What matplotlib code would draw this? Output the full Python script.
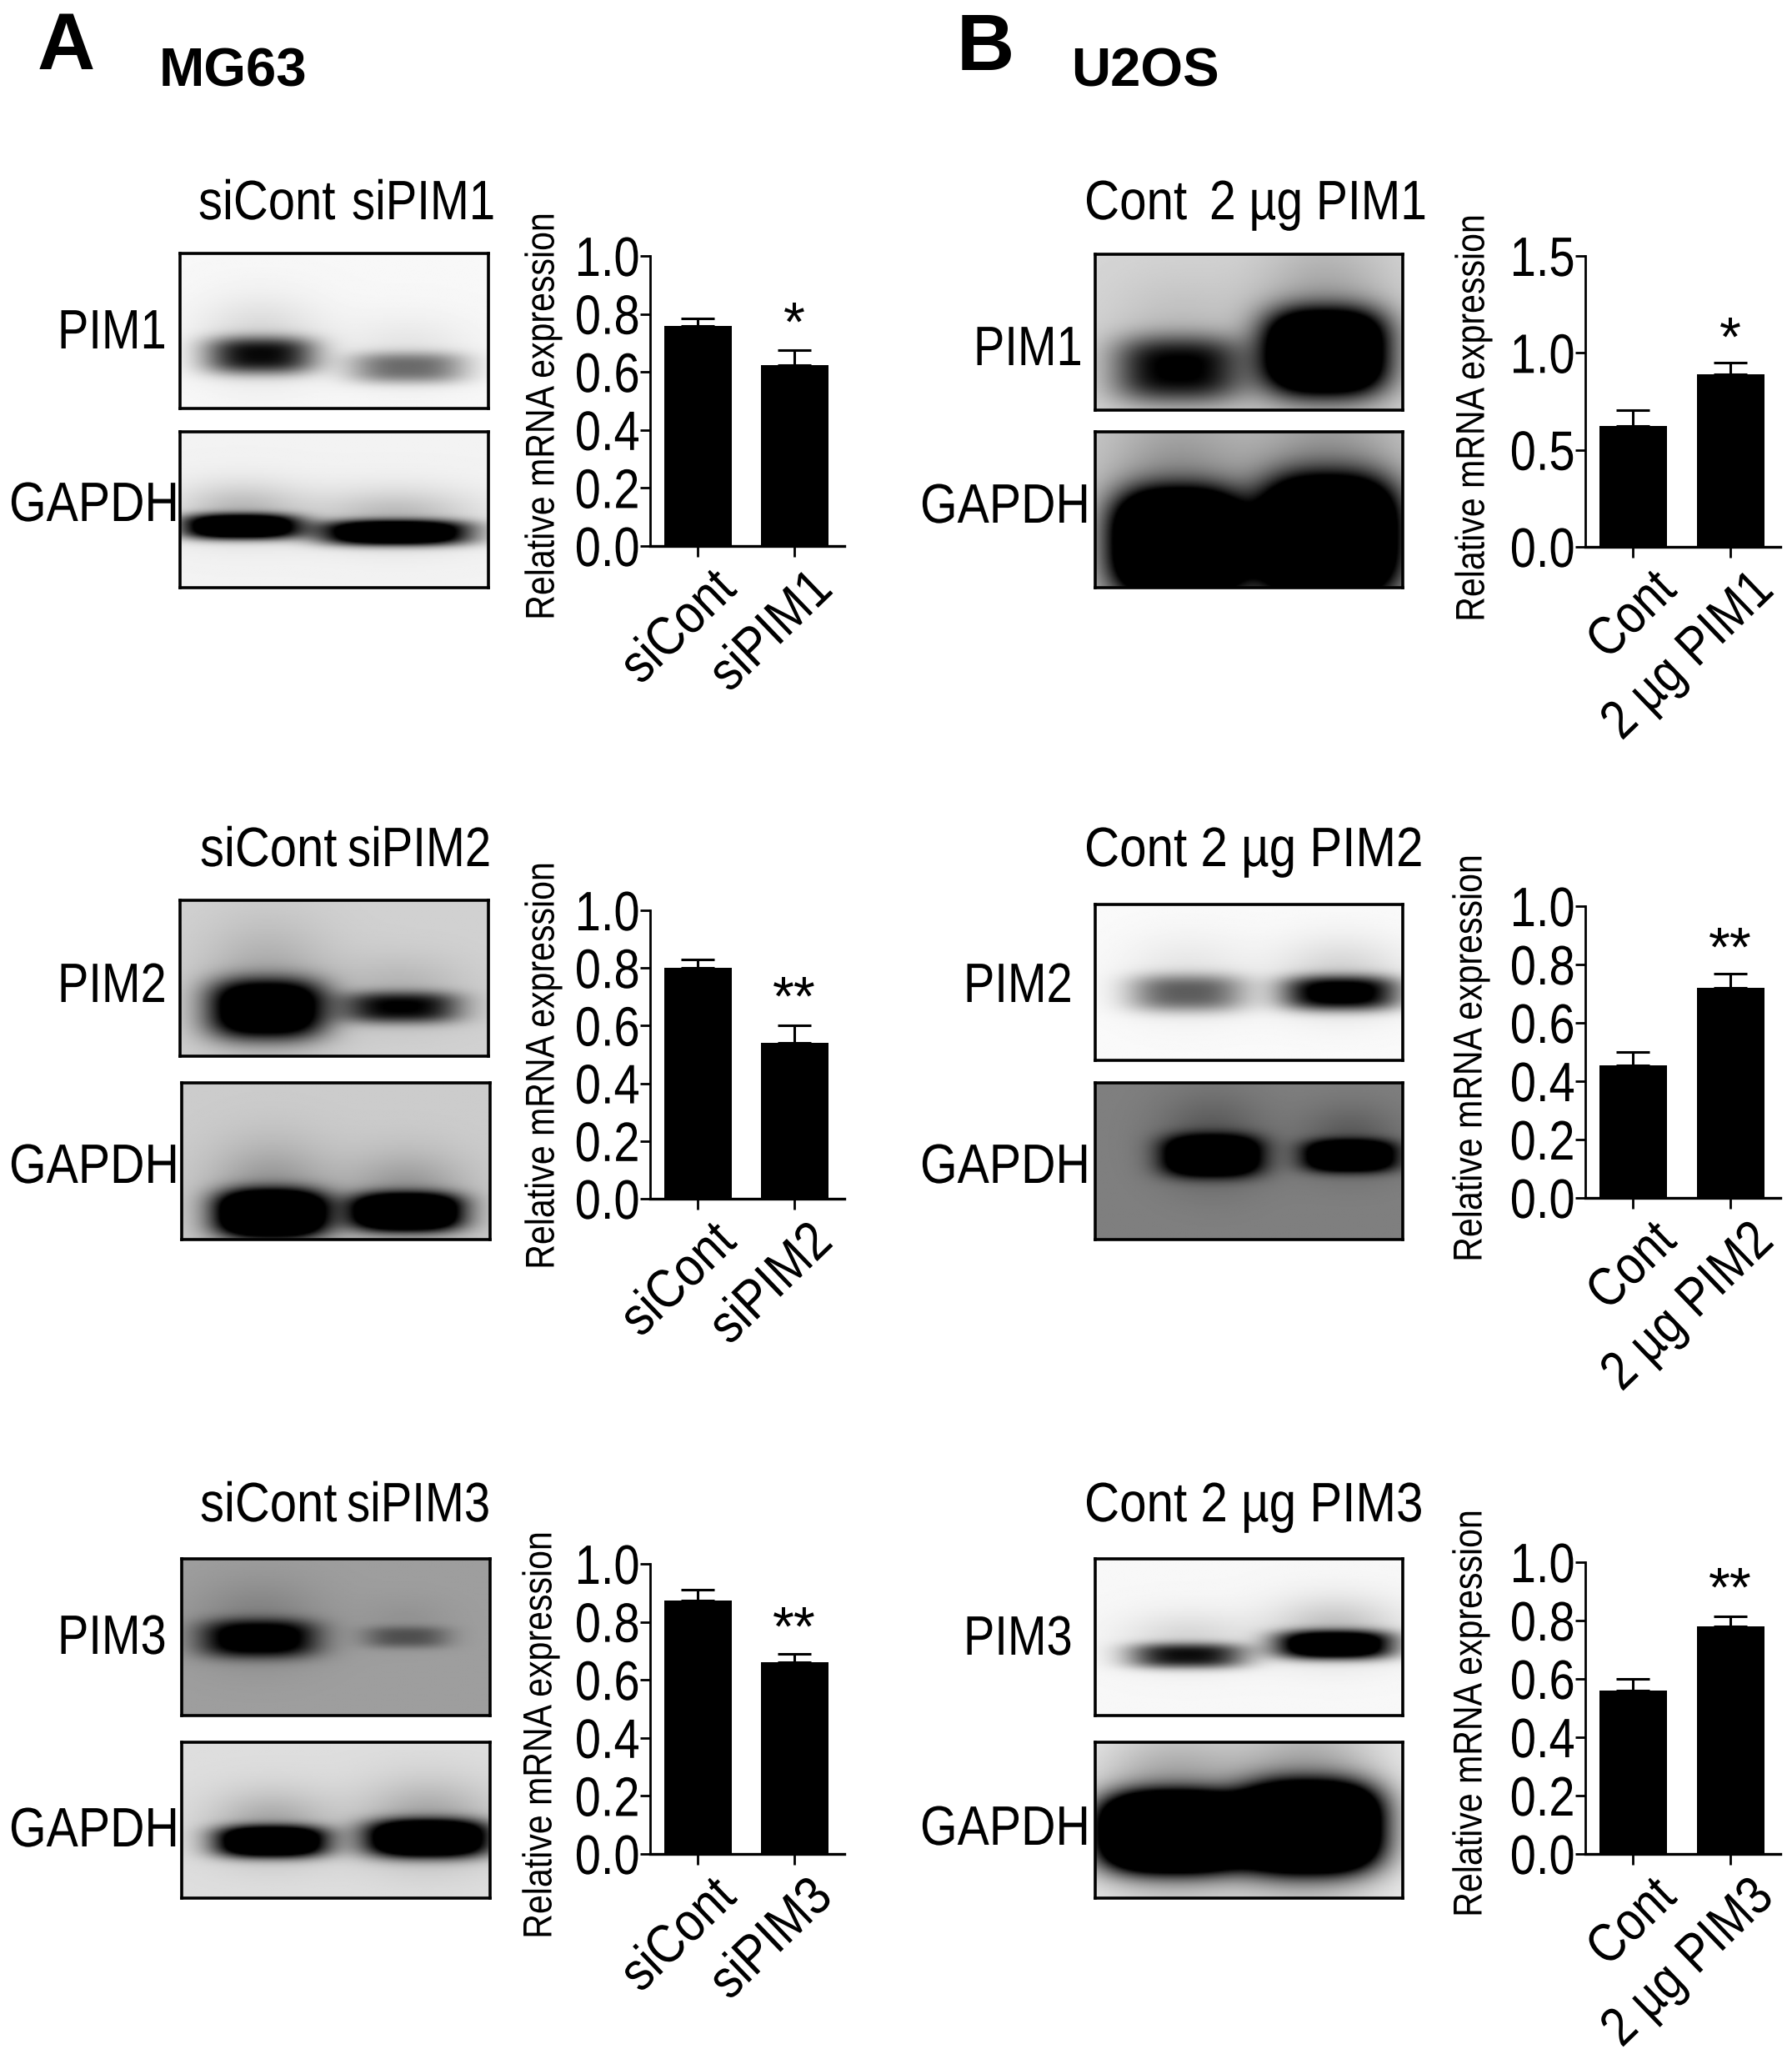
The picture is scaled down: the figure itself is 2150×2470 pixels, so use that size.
import numpy as np
import matplotlib
matplotlib.use("Agg")
import matplotlib.pyplot as plt
from matplotlib.patheffects import AbstractPathEffect
from matplotlib.transforms import Affine2D, ScaledTranslation

W, H = 2150, 2470
FONT = "Liberation Sans"

# Chart values (top row to bottom row, control then treated)
MG63_LABELS = [["siCont", "siPIM1"], ["siCont", "siPIM2"], ["siCont", "siPIM3"]]
MG63_MEANS = [[0.76, 0.625], [0.80, 0.54], [0.875, 0.66]]
MG63_UPPER = [[0.785, 0.675], [0.83, 0.60], [0.91, 0.69]]
MG63_STARS = ["*", "**", "**"]
MG63_STAR_Y = [0.797, 0.726, 0.808]

U2OS_LABELS = [["Cont", "2 µg PIM1"], ["Cont", "2 µg PIM2"], ["Cont", "2 µg PIM3"]]
U2OS_MEANS = [[0.625, 0.89], [0.455, 0.72], [0.56, 0.78]]
U2OS_UPPER = [[0.705, 0.95], [0.50, 0.77], [0.60, 0.815]]
U2OS_STARS = ["*", "**", "**"]
U2OS_STAR_Y = [1.118, 0.885, 0.937]

Y_TICKS_PIM = [0.0, 0.2, 0.4, 0.6, 0.8, 1.0]
Y_TICKS_U2OS_1 = [0.0, 0.5, 1.0, 1.5]

# Blot bands: (centre x, centre y, half width, half height, darkness) as box fractions
BLOT_BG = {
    "a1p": 0.97, "a1g": 0.95, "a2p": 0.82, "a2g": 0.80, "a3p": 0.62, "a3g": 0.87,
    "b1p": 0.84, "b1g": 0.80, "b2p": 0.98, "b2g": 0.50, "b3p": 0.97, "b3g": 0.94,
}
BLOT_BANDS = {
    "a1p": [(0.26, 0.66, 0.18, 0.12, 0.85), (0.74, 0.74, 0.19, 0.10, 0.50)],
    "a1g": [(0.195, 0.61, 0.19, 0.08, 1.5), (0.70, 0.65, 0.24, 0.08, 1.5)],
    "a2p": [(0.28, 0.70, 0.19, 0.19, 1.4), (0.72, 0.69, 0.19, 0.10, 0.9)],
    "a2g": [(0.29, 0.84, 0.18, 0.15, 1.9), (0.73, 0.83, 0.18, 0.12, 1.8)],
    "a3p": [(0.25, 0.51, 0.19, 0.12, 1.2), (0.73, 0.50, 0.14, 0.07, 0.45)],
    "a3g": [(0.29, 0.64, 0.18, 0.10, 1.6), (0.80, 0.62, 0.20, 0.12, 1.7)],
    "b1p": [(0.27, 0.74, 0.21, 0.21, 0.9), (0.75, 0.63, 0.20, 0.27, 1.9)],
    "b1g": [(0.27, 0.72, 0.21, 0.33, 2.4), (0.76, 0.68, 0.22, 0.37, 2.4)],
    "b2p": [(0.30, 0.57, 0.19, 0.12, 0.55), (0.80, 0.57, 0.19, 0.11, 1.05)],
    "b2g": [(0.38, 0.47, 0.16, 0.13, 2.0), (0.83, 0.47, 0.15, 0.10, 1.9)],
    "b3p": [(0.30, 0.62, 0.19, 0.08, 0.85), (0.78, 0.55, 0.19, 0.09, 1.4)],
    "b3g": [(0.25, 0.58, 0.23, 0.24, 2.6), (0.70, 0.55, 0.22, 0.27, 2.6)],
}


class Squeeze(AbstractPathEffect):
    """Narrow a text along its baseline, keeping the given anchor fixed."""

    def __init__(self, sx, anchor=0.0):
        super().__init__()
        self.sx = sx
        self.anchor = anchor

    def draw_path(self, renderer, gc, tpath, affine, rgbFace=None):
        width = tpath.vertices[:, 0].max()
        shift = (1 - self.sx) * width * self.anchor
        local = Affine2D().scale(self.sx, 1).translate(shift, 0)
        renderer.draw_path(gc, tpath, (local + affine).frozen(), rgbFace)


fig = plt.figure(figsize=(W / 100, H / 100), dpi=100, facecolor="white")


def axes_px(x0, y0, x1, y1):
    return fig.add_axes([x0 / W, 1 - y1 / H, (x1 - x0) / W, (y1 - y0) / H])


def text_px(x, y, s, size=48, sx=0.85, anchor=0.0, ha="left", va="baseline", **kw):
    t = fig.text(x / W, 1 - y / H, s, fontsize=size, family=FONT, ha=ha, va=va, color="black", **kw)
    if sx != 1:
        t.set_path_effects([Squeeze(sx, anchor)])


def draw_blot(key, box):
    ax = axes_px(*box)
    h, w = 120, 240
    yy, xx = np.mgrid[0:1:h * 1j, 0:1:w * 1j]
    dark = np.zeros_like(xx)
    for cx, cy, wx, wy, d in BLOT_BANDS[key]:
        r = (np.abs(xx - cx) / wx) ** 3 + (np.abs(yy - cy) / wy) ** 3
        dark += d * np.exp(-r)
        # soft smear above each band
        dark += 0.16 * d * np.exp(-((xx - cx) / (1.1 * wx)) ** 2 - ((yy - cy + 0.1) / (2.2 * wy)) ** 2)
    ax.imshow(BLOT_BG[key] * (1 - np.clip(dark, 0, 1)), cmap="gray", vmin=0, vmax=1,
              aspect="auto", interpolation="bilinear")
    ax.set_xticks([])
    ax.set_yticks([])
    for sp in ax.spines.values():
        sp.set_linewidth(2.6)


def draw_bars(x_axis, x_right, centers, y_top, y_zero, means, upper, labels, star, star_y,
              ymax, yticks, shift, sx_tick):
    ax = axes_px(x_axis, y_top, x_right, y_zero)
    unit = centers[1] - centers[0]
    pos = [0, 1]
    err = [u - m for u, m in zip(upper, means)]
    ax.bar(pos, means, width=81 / unit, color="black",
           yerr=[[0, 0], err], ecolor="black",
           error_kw=dict(elinewidth=2.2, capsize=14.5, capthick=2.2))
    ax.set_xlim((x_axis - centers[0]) / unit, (x_right - centers[0]) / unit)
    ax.set_ylim(0, ymax)
    ax.patch.set_alpha(0)
    ax.spines["top"].set_visible(False)
    ax.spines["right"].set_visible(False)
    ax.spines["left"].set_linewidth(2)
    ax.spines["bottom"].set_linewidth(2.4)
    ax.set_yticks(yticks)
    ax.set_yticklabels(["%.1f" % t for t in yticks], fontsize=48, family=FONT)
    ax.tick_params(axis="y", length=8.5, width=2, pad=0)
    for lab in ax.get_yticklabels():
        lab.set_path_effects([Squeeze(0.84, 1.0)])
    ax.set_xticks(pos)
    ax.set_xticklabels(labels, fontsize=47, family=FONT, rotation=44, ha="right",
                       va="top", rotation_mode="anchor")
    ax.tick_params(axis="x", length=9, width=2, pad=6)
    for lab in ax.get_xticklabels():
        lab.set_transform(lab.get_transform() + ScaledTranslation(shift / 100, 0, fig.dpi_scale_trans))
        lab.set_path_effects([Squeeze(sx_tick, 1.0)])
    ax.annotate(star, (pos[1], star_y), xytext=(0, -10), textcoords="offset points",
                fontsize=48, family=FONT, ha="center", va="center", annotation_clip=False)


# Panel letters and cell lines
for x, y, s, size in [(45, 83, "A", 69), (1148, 84, "B", 69), (191, 104, "MG63", 47), (1285, 103, "U2OS", 47)]:
    text_px(x, y, s, size=size, sx=1, weight="bold")

A_BLOTS = [("a1p", (216, 304, 586, 490)), ("a1g", (216, 518, 586, 705)),
           ("a2p", (216, 1080, 586, 1267)), ("a2g", (218, 1299, 588, 1487)),
           ("a3p", (218, 1870, 588, 2058)), ("a3g", (218, 2090, 588, 2277))]
B_BLOTS = [("b1p", (1314, 305, 1683, 492)), ("b1g", (1314, 518, 1683, 705)),
           ("b2p", (1314, 1085, 1683, 1272)), ("b2g", (1314, 1299, 1683, 1487)),
           ("b3p", (1314, 1870, 1683, 2058)), ("b3g", (1314, 2090, 1683, 2277))]
for key, box in A_BLOTS + B_BLOTS:
    draw_blot(key, box)

A_CHART_Y = [(307, 655), (1092, 1438), (1876, 2224)]
B_CHART_Y = [(307, 656), (1087, 1437), (1874, 2224)]
for i in range(3):
    draw_bars(780, 1013, (837, 953), A_CHART_Y[i][0], A_CHART_Y[i][1],
              MG63_MEANS[i], MG63_UPPER[i], MG63_LABELS[i], MG63_STARS[i], MG63_STAR_Y[i],
              1.0, Y_TICKS_PIM, 16, 0.88)
    draw_bars(1902, 2136, (1959, 2076), B_CHART_Y[i][0], B_CHART_Y[i][1],
              U2OS_MEANS[i], U2OS_UPPER[i], U2OS_LABELS[i], U2OS_STARS[i], U2OS_STAR_Y[i],
              1.5 if i == 0 else 1.0, Y_TICKS_U2OS_1 if i == 0 else Y_TICKS_PIM, 22, 0.86)

# Labels above the blots
for base, x0, x1, right in zip([263, 1039, 1825], [238, 240, 240], [422, 417, 416],
                               ["siPIM1", "siPIM2", "siPIM3"]):
    text_px(x0, base, "siCont", sx=0.87)
    text_px(x1, base, right, sx=0.845)
text_px(1301, 263, "Cont", sx=0.875)
text_px(1451, 263, "2 µg PIM1", sx=0.855)
text_px(1301, 1039, "Cont 2 µg PIM2", sx=0.875)
text_px(1301, 1825, "Cont 2 µg PIM3", sx=0.875)

# Labels beside the blots
for y, s in [(418, "PIM1"), (1202, "PIM2"), (1984, "PIM3")]:
    text_px(69, y, s, sx=0.84)
for y in [625, 1419, 2215]:
    text_px(11, y, "GAPDH", sx=0.86)
for y, x, s in [(438, 1168, "PIM1"), (1202, 1156, "PIM2"), (1985, 1156, "PIM3")]:
    text_px(x, y, s, sx=0.84)
for y in [627, 1419, 2213]:
    text_px(1104, y, "GAPDH", sx=0.86)

# y axis titles
for x, y in [(652, 499), (652, 1278), (649, 2081), (1768, 501), (1765, 1269), (1765, 2055)]:
    text_px(x, y, "Relative mRNA expression", size=35, sx=0.845, anchor=0.5,
            ha="center", va="center", rotation=90)

fig.savefig("out.png", dpi=100)
